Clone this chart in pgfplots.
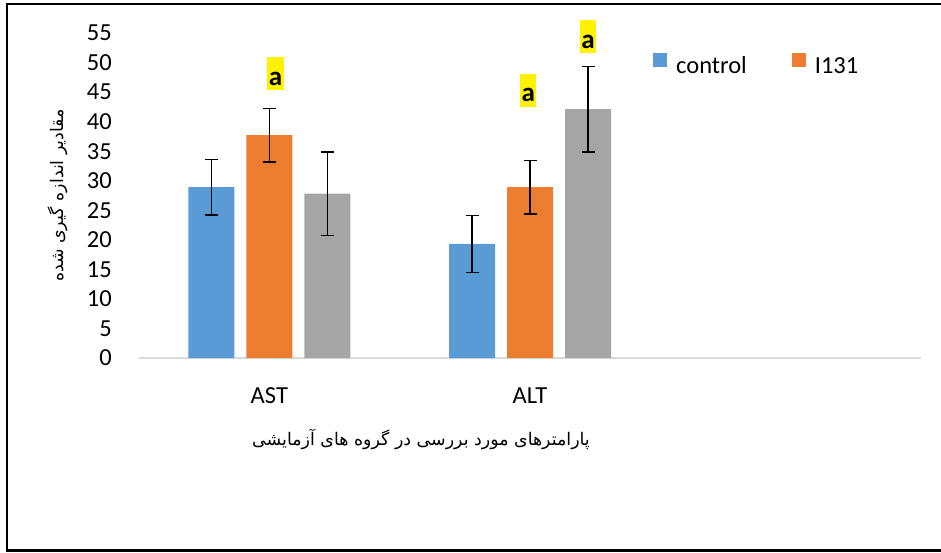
\documentclass[border=0pt]{standalone}
\usepackage{fontspec}
\setmainfont{Carlito}
\newfontfamily\arabicfont[Script=Arabic]{DejaVu Sans}
\TeXXeTstate=1
\usepackage{pgfplots}
\pgfplotsset{compat=1.18}
\definecolor{cblue}{HTML}{5B9BD5}
\definecolor{corange}{HTML}{ED7D31}
\definecolor{cgray}{HTML}{A5A5A5}
\definecolor{caxis}{HTML}{D9D9D9}
\begin{document}
\begin{tikzpicture}
\useasboundingbox (0pt,0pt) rectangle (941pt,552pt);
\begin{axis}[
  at={(139pt,194pt)}, anchor=south west,
  scale only axis, width=782pt, height=325pt,
  ymin=0, ymax=55, ytick={0,5,...,55},
  xmin=-0.5, xmax=2.5, xtick={0,1}, xticklabels={AST,ALT},
  axis y line*=left, axis x line*=bottom,
  y axis line style={draw=none},
  x axis line style={draw=caxis, line width=1.5pt},
  tick style={draw=none},
  ybar, bar width=46pt,
  clip=false,
  /pgf/number format/assume math mode=true,
  tick label style={font=\fontsize{24.5}{29}\selectfont},
  yticklabel style={anchor=east, inner sep=0pt, xshift=-27pt},
  xticklabel style={anchor=north, inner sep=0pt, yshift=-25pt},
  ylabel={\arabicfont\beginR مقادیر اندازه گیری شده\endR},
  ylabel style={at={(axis description cs:-0.1036,0.5)}, anchor=center, rotate=0, font=\fontsize{17.4}{21}\selectfont},
  xlabel={\arabicfont\beginR پارامترهای مورد بررسی در گروه های آزمایشی\endR},
  xlabel style={at={(axis description cs:0.3606,-0.252)}, anchor=center, font=\fontsize{17.4}{21}\selectfont},
  legend style={at={(axis description cs:0.6535,0.905)}, anchor=west, draw=none, fill=none,
    font=\fontsize{24.5}{29}\selectfont, nodes={inner sep=0pt},
    /tikz/every odd column/.append style={column sep=9pt},
    /tikz/every even column/.append style={column sep=45pt}},
  legend columns=2,
  legend image code/.code={\fill[#1] (0pt,-1pt) rectangle (14pt,13.5pt);},
  error bars/y dir=both, error bars/y explicit,
  error bars/error bar style={black, line width=1.3pt},
  error bars/error mark options={rotate=90, mark size=6.5pt, line width=1.5pt, black},
]
\addplot[fill=cblue, draw=none, bar shift=-58pt] coordinates {(0,28.9) +- (0,4.7) (1,19.3) +- (0,4.8)};
\addlegendentry{control}
\addplot[fill=corange, draw=none, bar shift=0pt] coordinates {(0,37.7) +- (0,4.5) (1,28.9) +- (0,4.5)};
\addlegendentry{I131}
\addplot[fill=cgray, draw=none, bar shift=58pt, forget plot] coordinates {(0,27.8) +- (0,7.1) (1,42.1) +- (0,7.2)};
\tikzset{alabel/.style={fill=yellow, inner xsep=1.5pt, inner ysep=0pt, text height=28pt, text depth=5pt, anchor=base, font=\fontsize{27}{31}\selectfont\bfseries}}
\node[alabel] at (axis cs:0.0236,46.2) {a};
\node[alabel] at (axis cs:0.9935,43.4) {a};
\node[alabel] at (axis cs:1.2225,52.4) {a};
\end{axis}
\draw[line width=2.5pt] (960pt,548pt) -- (7pt,548pt) -- (7pt,1.5pt) -- (960pt,1.5pt);
\end{tikzpicture}
\end{document}
